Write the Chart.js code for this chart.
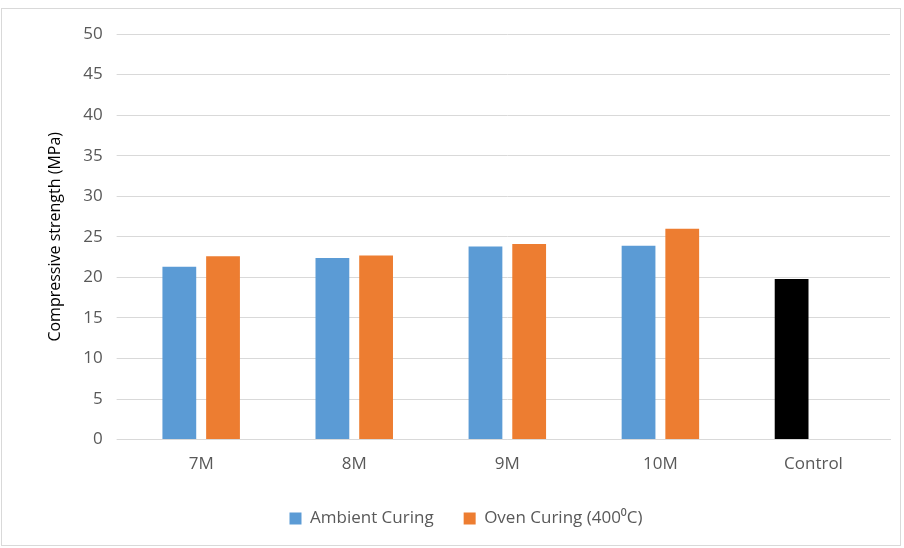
<!DOCTYPE html>
<html>
<head>
<meta charset="utf-8">
<script src="https://cdn.jsdelivr.net/npm/chart.js@4"></script>
<style>
  html, body { margin: 0; padding: 0; background: #fff; }
  #wrap { position: absolute; left: 1px; top: 8px; width: 900px; height: 538px; border: 1px solid #d9d9d9; box-sizing: border-box; }
</style>
</head>
<body>
<div id="wrap"><canvas id="chart"></canvas></div>
<script>
// data
const categories = ['7M', '8M', '9M', '10M', 'Control'];
const ambientValues = [21.3, 22.4, 23.8, 23.9, 19.8];
const ovenValues = [22.6, 22.7, 24.1, 26.0, null];
const ambientColors = ['#5b9bd5', '#5b9bd5', '#5b9bd5', '#5b9bd5', '#000000'];

Chart.defaults.font.family = "'Open Sans', 'Liberation Sans', sans-serif";
Chart.defaults.color = '#595959';

new Chart(document.getElementById('chart'), {
  type: 'bar',
  data: {
    labels: categories,
    datasets: [
      {
        label: 'Ambient Curing',
        data: ambientValues,
        backgroundColor: ambientColors,
        categoryPercentage: 0.571,
        barPercentage: 0.773
      },
      {
        label: 'Oven Curing (400⁰C)',
        data: ovenValues,
        backgroundColor: '#ed7d31',
        categoryPercentage: 0.571,
        barPercentage: 0.773
      }
    ]
  },
  options: {
    responsive: true,
    maintainAspectRatio: false,
    animation: false,
    layout: { padding: { left: 40, right: 10, top: 25, bottom: 8 } },
    plugins: {
      legend: {
        position: 'bottom',
        labels: {
          font: { size: 17 },
          boxWidth: 12, boxHeight: 12, padding: 30,
          generateLabels: chart => chart.data.datasets.map((ds, i) => ({
            text: ds.label,
            fillStyle: i === 0 ? '#5b9bd5' : '#ed7d31',
            strokeStyle: 'transparent',
            lineWidth: 0,
            datasetIndex: i,
            fontColor: '#595959'
          }))
        }
      },
      tooltip: { enabled: false }
    },
    scales: {
      x: {
        grid: { display: false },
        border: { color: '#d9d9d9' },
        ticks: { font: { size: 17 }, padding: 6 }
      },
      y: {
        min: 0, max: 50,
        ticks: { stepSize: 5, font: { size: 17 }, padding: 14 },
        grid: { color: '#d9d9d9' },
        border: { display: false },
        title: { display: true, text: 'Compressive strength (MPa)', color: '#000', font: { size: 16 } }
      }
    }
  }
});
</script>
</body>
</html>
